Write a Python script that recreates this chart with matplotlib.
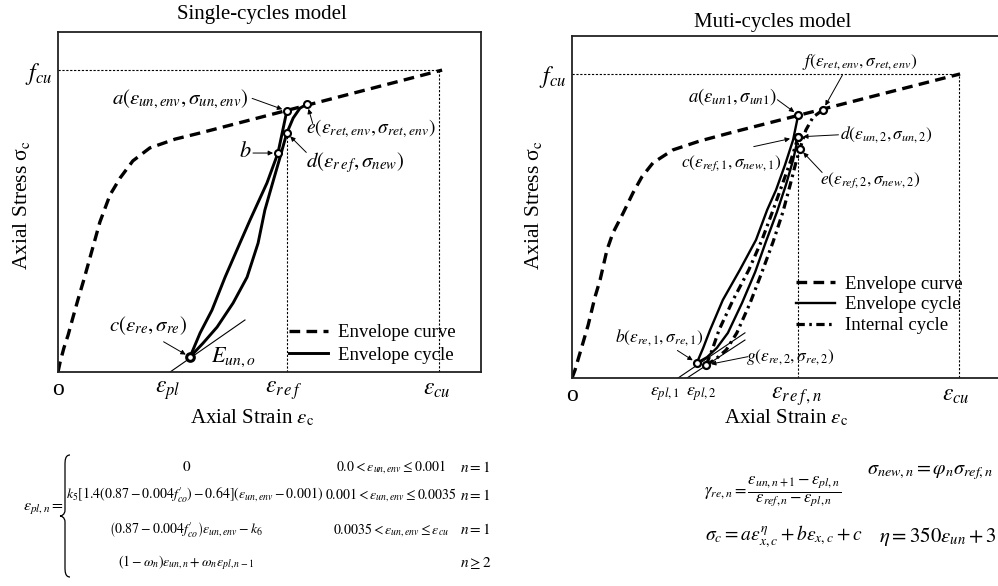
import matplotlib
matplotlib.use('Agg')
import matplotlib.pyplot as plt
from matplotlib.path import Path
from matplotlib.patches import PathPatch

plt.rcParams['font.family'] = ['Liberation Serif', 'DejaVu Serif']
plt.rcParams['mathtext.fontset'] = 'stix'

W, H = 998, 586

# ---------------- data: single-cycle model (normalised strain / stress) ----------------
env1_strain = [0.000, 0.005, 0.014, 0.024, 0.035, 0.047, 0.061, 0.076, 0.099, 0.123,
               0.147, 0.177, 0.217, 0.277, 0.336, 0.908]
env1_stress = [0.000, 0.029, 0.071, 0.109, 0.159, 0.212, 0.271, 0.338, 0.441, 0.521,
               0.571, 0.621, 0.659, 0.685, 0.703, 0.888]
unload1_strain = [0.541, 0.520, 0.494, 0.454, 0.430, 0.395, 0.364, 0.336, 0.312]
unload1_stress = [0.768, 0.644, 0.556, 0.447, 0.379, 0.279, 0.182, 0.115, 0.044]
reload1_strain = [0.312, 0.343, 0.376, 0.414, 0.447, 0.473, 0.489, 0.506, 0.525,
                  0.541, 0.556, 0.572, 0.589]
reload1_stress = [0.044, 0.085, 0.132, 0.203, 0.279, 0.379, 0.476, 0.550, 0.632,
                  0.703, 0.747, 0.776, 0.788]
tangent1_strain = [0.265, 0.442]
tangent1_stress = [0.000, 0.153]
pts1_strain = [0.541, 0.520, 0.312, 0.541, 0.589]   # a, b, c, d, e
pts1_stress = [0.768, 0.644, 0.044, 0.703, 0.788]
eps_cu1, f_cu1, eps_ref1 = 0.900, 0.888, 0.541
xt1_pos = [0.000, 0.260, 0.534, 0.896]
xt1_lab = ['o', r'$\varepsilon_{pl}$', r'$\varepsilon_{r\,e\,f}$', r'$\varepsilon_{cu}$']

# ---------------- data: multi-cycle model ----------------
env2_strain = [0.000, 0.007, 0.014, 0.023, 0.038, 0.054, 0.066, 0.082, 0.096, 0.120,
               0.143, 0.164, 0.190, 0.237, 0.300, 0.378, 0.911]
env2_stress = [0.000, 0.023, 0.053, 0.091, 0.155, 0.237, 0.287, 0.374, 0.424, 0.482,
               0.541, 0.588, 0.629, 0.667, 0.693, 0.719, 0.889]
s1_strain = [0.531, 0.519, 0.500, 0.479, 0.458, 0.432, 0.394, 0.354, 0.324, 0.308, 0.293]
s1_stress = [0.769, 0.696, 0.623, 0.550, 0.491, 0.404, 0.316, 0.228, 0.140, 0.088, 0.044]
s2_strain = [0.293, 0.317, 0.340, 0.366, 0.399, 0.430, 0.455, 0.481, 0.502, 0.519, 0.531]
s2_stress = [0.044, 0.061, 0.088, 0.132, 0.219, 0.310, 0.398, 0.485, 0.564, 0.637, 0.705]
d1_strain = [0.531, 0.514, 0.493, 0.472, 0.446, 0.415, 0.378, 0.345, 0.329, 0.315]
d1_stress = [0.705, 0.637, 0.564, 0.491, 0.404, 0.316, 0.228, 0.140, 0.082, 0.038]
d2_strain = [0.315, 0.338, 0.362, 0.387, 0.418, 0.446, 0.472, 0.495, 0.512, 0.526,
             0.535, 0.549, 0.566, 0.589]
d2_stress = [0.038, 0.056, 0.082, 0.132, 0.219, 0.310, 0.398, 0.485, 0.564, 0.632,
             0.670, 0.725, 0.763, 0.784]
tanA_strain, tanA_stress = [0.249, 0.406], [0.000, 0.132]
tanB_strain, tanB_stress = [0.270, 0.406], [0.000, 0.111]
pts2_strain = [0.531, 0.293, 0.531, 0.531, 0.535, 0.589, 0.315]  # a b c d e f g
pts2_stress = [0.769, 0.044, 0.705, 0.705, 0.670, 0.784, 0.038]
eps_cu2, f_cu2, eps_ref2 = 0.908, 0.889, 0.531
xt2_pos = [0.000, 0.218, 0.303, 0.528, 0.900]
xt2_lab = ['o', r'$\varepsilon_{pl,1}$', r'$\varepsilon_{pl,2}$', r'$\varepsilon_{r\,e\,f\,,n}$',
           r'$\varepsilon_{cu}$']

ENV_DASH = (3.2, 1.9)
DD = (2.6, 1.4, 0.8, 1.4)

fig = plt.figure(figsize=(W / 100, H / 100), dpi=100)


def fxy(px, py):
    return px / W, 1 - py / H


def ftext(px, py, s, **kw):
    x, y = fxy(px, py)
    kw.setdefault('ha', 'center')
    kw.setdefault('va', 'center')
    fig.text(x, y, s, **kw)


def setup(ax, f_cu, xpos, xlab):
    ax.set_xlim(0, 1)
    ax.set_ylim(0, 1)
    ax.set_xticks(xpos)
    ax.set_xticklabels(xlab)
    ax.set_yticks([f_cu])
    ax.set_yticklabels([r'$f_{cu}$'])
    ax.tick_params(length=0, labelsize=17, pad=4)
    ax.tick_params(axis='x', pad=5)
    for sp in ax.spines.values():
        sp.set_linewidth(1.3)
        sp.set_color('#222222')


def arrow(ax, xy, off, shrink=3.5):
    ax.annotate('', xy=xy, xytext=off, textcoords='offset points',
                arrowprops=dict(arrowstyle='-|>', lw=0.7, color='black',
                                mutation_scale=7, shrinkA=0, shrinkB=shrink))


# ===================== left panel =====================
ax1 = fig.add_axes([58 / W, 1 - 372 / H, 423 / W, 340 / H])
setup(ax1, f_cu1, xt1_pos, xt1_lab)
ax1.plot([0, eps_cu1, eps_cu1], [f_cu1, f_cu1, 0], color='black', lw=0.8, ls=(0, (2, 1.5)))
ax1.plot([eps_ref1, eps_ref1], [0, pts1_stress[3]], color='black', lw=0.8, ls=(0, (2, 1.5)))
ax1.plot(tangent1_strain, tangent1_stress, color='black', lw=0.8)
ax1.plot(env1_strain, env1_stress, color='black', lw=2.4, dashes=ENV_DASH,
         dash_capstyle='butt', label='Envelope curve')
ax1.plot(unload1_strain, unload1_stress, color='black', lw=2.1, label='Envelope cycle')
ax1.plot(reload1_strain, reload1_stress, color='black', lw=2.1)
ax1.plot(pts1_strain[:2] + pts1_strain[3:], pts1_stress[:2] + pts1_stress[3:], 'o',
         ms=5, mfc='white', mec='black', mew=1.5)
ax1.plot([pts1_strain[2]], [pts1_stress[2]], 'o', ms=5.5, mfc='white', mec='black', mew=2.2)
ax1.legend(loc='upper left', bbox_to_anchor=(0.545, 0.141), frameon=False,
           fontsize=13.5, handlelength=2.1, handletextpad=0.55, labelspacing=0.28,
           borderpad=0, borderaxespad=0)

arrow(ax1, (pts1_strain[0], pts1_stress[0]), (-25, 9))
arrow(ax1, (pts1_strain[4], pts1_stress[4]), (4, -14))
arrow(ax1, (pts1_strain[1], pts1_stress[1]), (-18, 0))
arrow(ax1, (pts1_strain[3], pts1_stress[3]), (14, -14))
arrow(ax1, (pts1_strain[2], pts1_stress[2]), (-19, 11))

LS = 15
ftext(180, 99, r'$a\left(\varepsilon_{un,env},\sigma_{un,env}\right)$', fontsize=LS)
ftext(371, 129, r'$e\left(\varepsilon_{ret,env},\sigma_{ret,env}\right)$', fontsize=14)
ftext(245, 152, r'$b$', fontsize=LS + 1)
ftext(355, 163, r'$d\left(\varepsilon_{r\,e\,f},\sigma_{new}\right)$', fontsize=LS)
ftext(148, 326, r'$c\left(\varepsilon_{re},\sigma_{re}\right)$', fontsize=LS)
ftext(233, 357, r'$E_{un,o}$', fontsize=LS + 1)

ftext(262, 15, 'Single-cycles model', fontsize=15)
ftext(252, 418, r'Axial Strain $\varepsilon$$_{\mathrm{c}}$', fontsize=15)
ftext(22, 205, r'Axial Stress σ$_{\mathrm{c}}$', fontsize=15.5, rotation=90)

# ===================== right panel =====================
ax2 = fig.add_axes([572 / W, 1 - 378 / H, 426 / W, 342 / H])
setup(ax2, f_cu2, xt2_pos, xt2_lab)
for i in (1, 2):
    ax2.get_xticklabels()[i].set_fontsize(13)
ax2.spines['right'].set_visible(False)
ax2.plot([0, eps_cu2, eps_cu2], [f_cu2, f_cu2, 0], color='black', lw=0.8, ls=(0, (2, 1.5)))
ax2.plot([eps_ref2, eps_ref2], [0, pts2_stress[3]], color='black', lw=0.8, ls=(0, (2, 1.5)))
ax2.plot(tanA_strain, tanA_stress, color='black', lw=0.8)
ax2.plot(tanB_strain, tanB_stress, color='black', lw=0.8)
ax2.plot(env2_strain, env2_stress, color='black', lw=2.4, dashes=ENV_DASH,
         dash_capstyle='butt', label='Envelope curve')
ax2.plot(s1_strain, s1_stress, color='black', lw=1.7, label='Envelope cycle')
ax2.plot(s2_strain, s2_stress, color='black', lw=1.7)
ax2.plot(d1_strain, d1_stress, color='black', lw=2.3, dashes=DD, label='Internal cycle')
ax2.plot(d2_strain, d2_stress, color='black', lw=2.3, dashes=DD)
ax2.plot(pts2_strain, pts2_stress, 'o', ms=5, mfc='white', mec='black', mew=1.6)
ax2.legend(loc='upper left', bbox_to_anchor=(0.525, 0.300), frameon=False,
           fontsize=13.5, handlelength=2.1, handletextpad=0.55, labelspacing=0.2,
           borderpad=0, borderaxespad=0)

arrow(ax2, (pts2_strain[5], pts2_stress[5]), (14, 25))
arrow(ax2, (pts2_strain[0], pts2_stress[0]), (-15, 11))
arrow(ax2, (pts2_strain[3], pts2_stress[3]), (29, 1.5))
arrow(ax2, (pts2_strain[2], pts2_stress[2]), (-32, -7), shrink=6)
arrow(ax2, (pts2_strain[4], pts2_stress[4]), (16, -17))
arrow(ax2, (pts2_strain[1], pts2_stress[1]), (-14, 9))
arrow(ax2, (pts2_strain[6], pts2_stress[6]), (30, 6))

RS = 12.5
ftext(860, 62, r'$f\left(\varepsilon_{ret,env},\sigma_{ret,env}\right)$', fontsize=RS)
ftext(733, 97, r'$a\left(\varepsilon_{un1},\sigma_{un1}\right)$', fontsize=RS + 1)
ftext(886, 135, r'$d\left(\varepsilon_{un,2},\sigma_{un,2}\right)$', fontsize=RS)
ftext(731, 163, r'$c\left(\varepsilon_{ref,1},\sigma_{new,1}\right)$', fontsize=RS)
ftext(870, 180, r'$e\left(\varepsilon_{ref,2},\sigma_{new,2}\right)$', fontsize=RS)
ftext(659, 338, r'$b\left(\varepsilon_{re,1},\sigma_{re,1}\right)$', fontsize=RS)
ftext(790, 357, r'$g\left(\varepsilon_{re,2},\sigma_{re,2}\right)$', fontsize=RS)

ftext(773, 22, 'Muti-cycles model', fontsize=15)
ftext(786, 418, r'Axial Strain $\varepsilon$$_{\mathrm{c}}$', fontsize=15)
ftext(533, 205, r'Axial Stress σ$_{\mathrm{c}}$', fontsize=15.5, rotation=90)

# ===================== equations =====================
ES = 10
ftext(44, 508, r'$\varepsilon_{pl,n}=$', fontsize=ES + 1.5)
# brace
bx, top, bot, mid = 65, 455, 577, 516
verts = [(bx + 5, top), (bx, top), (bx, top + 6), (bx, top + 10),
         (bx, mid - 6),
         (bx, mid - 1), (bx - 4, mid), (bx - 5, mid),
         (bx - 4, mid), (bx, mid + 1), (bx, mid + 6),
         (bx, bot - 10),
         (bx, bot - 6), (bx, bot), (bx + 5, bot)]
codes = [Path.MOVETO, Path.CURVE4, Path.CURVE4, Path.CURVE4,
         Path.LINETO,
         Path.CURVE4, Path.CURVE4, Path.CURVE4,
         Path.CURVE4, Path.CURVE4, Path.CURVE4,
         Path.LINETO,
         Path.CURVE4, Path.CURVE4, Path.CURVE4]
path = Path([fxy(x, y) for x, y in verts], codes)
fig.add_artist(PathPatch(path, transform=fig.transFigure, fill=False, lw=0.9, color='black'))

rows = [r'$0$',
        r'$k_5[1.4(0.87-0.004f^{\prime}_{co})-0.64]\left(\varepsilon_{un,env}-0.001\right)$',
        r'$\left(0.87-0.004f^{\prime}_{co}\right)\varepsilon_{un,env}-k_6$',
        r'$\left(1-\omega_n\right)\varepsilon_{un,n}+\omega_n\varepsilon_{pl,n-1}$']
row_x = [187, 195, 186, 186]
conds = [r'$0.0<\varepsilon_{un,env}\leq 0.001$',
         r'$0.001<\varepsilon_{un,env}\leq 0.0035$',
         r'$0.0035<\varepsilon_{un,env}\leq \varepsilon_{cu}$',
         '']
ns = [r'$n=1$', r'$n=1$', r'$n=1$', r'$n\geq 2$']
row_y = [467, 495, 530, 563]
for r, rx, c, n, y in zip(rows, row_x, conds, ns, row_y):
    ftext(rx, y, r, fontsize=ES + (1 if r == r'$0$' else 0))
    if c:
        ftext(391, y, c, fontsize=ES)
    ftext(460, y, n, fontsize=ES + 1, ha='left')

ftext(773, 492, r'$\gamma_{re,n}=\dfrac{\varepsilon_{un,n+1}-\varepsilon_{pl,n}}{\varepsilon_{ref,n}-\varepsilon_{pl,n}}$',
      fontsize=12)
ftext(930, 473, r'$\sigma_{new,n}=\varphi_n\sigma_{ref,n}$', fontsize=14.5)
ftext(784, 537, r'$\sigma_c=a\varepsilon^{\eta}_{x,c}+b\varepsilon_{x,c}+c$', fontsize=14)
ftext(938, 537, r'$\eta=350\varepsilon_{un}+3$', fontsize=15)

fig.savefig('out.png', dpi=100)
